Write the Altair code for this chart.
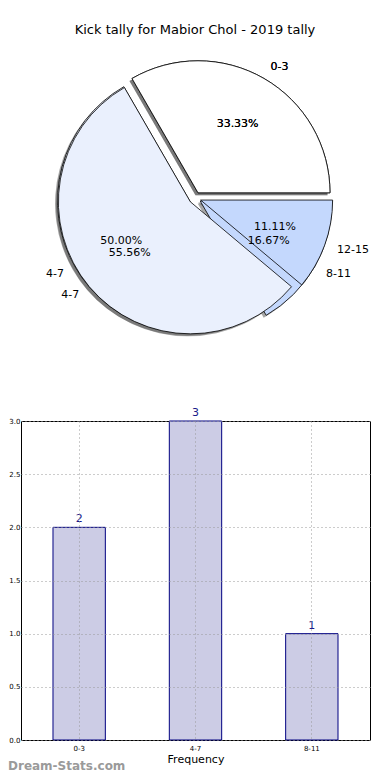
import math
import altair as alt
import pandas as pd

# ---------------- data ----------------
title_text = "Kick tally for Mabior Chol - 2019 tally"
bar_cats = ["0-3", "4-7", "8-11"]
bar_vals = [2, 3, 1]
pie1_cats = ["0-3", "4-7", "8-11"]
pie1_vals = [2, 3, 1]
pie2_cats = ["0-3", "4-7", "12-15"]
pie2_vals = [3, 5, 1]
pie_colors = ["#FFFFFF", "#EAF0FD", "#C4D8FD"]
y_ticks = [0.0, 0.5, 1.0, 1.5, 2.0, 2.5, 3.0]
x_title = "Frequency"
watermark = "Dream-Stats.com"

# ---------------- layout / style ----------------
PAD_L = 13
W, H = 349, 319
CX, CY = 195 - 8 - PAD_L, 198 - 421   # pie centre, relative to the bar plot area
R = 132
EXPLODE = 6
SH_X, SH_Y = -2.5, 2.5
FONT = "DejaVu Sans"


def pie_base(cats, vals):
    df = pd.DataFrame({"cat": cats, "val": vals, "idx": list(range(len(cats)))})
    return (
        alt.Chart(df)
        .transform_joinaggregate(total="sum(val)")
        .transform_window(cum="sum(val)", sort=[alt.SortField("idx")], frame=[None, 0])
        .transform_calculate(
            f1="datum.cum / datum.total",
            f0="(datum.cum - datum.val) / datum.total",
        )
        .transform_calculate(
            t0="PI/2 - 2*PI*datum.f1",
            t1="PI/2 - 2*PI*datum.f0",
            tm="PI/2 - PI*(datum.f0 + datum.f1)",
            pct="format(100*datum.val/datum.total, '.2f') + '%'",
        )
    )


def mids(vals):
    tot = sum(vals)
    out, c = [], 0
    for v in vals:
        out.append(2 * math.pi * (c + v / 2) / tot)
        c += v
    return out


pies = [(pie1_cats, pie1_vals), (pie2_cats, pie2_vals)]
shadow_layers, wedge_layers, text_layers = [], [], []
for cats, vals in pies:
    base = pie_base(cats, vals)
    for i, a in enumerate(mids(vals)):
        dx = EXPLODE * math.cos(a)
        dy = -EXPLODE * math.sin(a)
        w = base.transform_filter(f"datum.idx == {i}")
        shadow_layers.append(
            w.mark_arc(radius=R, fill="#4d4d4d", opacity=0.5).encode(
                theta=alt.Theta("t0:Q", scale=None),
                theta2="t1:Q",
                x=alt.value(CX + dx + SH_X),
                y=alt.value(CY + dy + SH_Y),
            )
        )
        wedge_layers.append(
            w.mark_arc(radius=R, fill=pie_colors[i], stroke="black", strokeWidth=0.8).encode(
                theta=alt.Theta("t0:Q", scale=None),
                theta2="t1:Q",
                x=alt.value(CX + dx),
                y=alt.value(CY + dy),
            )
        )
        text_layers.append(
            w.mark_text(
                align="left" if math.cos(a) > 0 else "right",
                baseline="middle", fontSize=11, font=FONT, color="black",
            ).encode(
                theta=alt.Theta("tm:Q", scale=None),
                radius=alt.value(1.1 * R),
                text="cat:N",
                x=alt.value(CX + dx),
                y=alt.value(CY + dy),
            )
        )
        text_layers.append(
            w.mark_text(align="center", baseline="middle", fontSize=11, font=FONT, color="black").encode(
                theta=alt.Theta("tm:Q", scale=None),
                radius=alt.value(0.6 * R),
                text="pct:N",
                x=alt.value(CX + dx),
                y=alt.value(CY + dy),
            )
        )

# ---------------- bar chart ----------------
bar_df = pd.DataFrame({"cat": bar_cats, "val": bar_vals})
grid_kw = dict(grid=True, gridDash=[1, 3], gridColor="#999999", gridWidth=1, zindex=1,
               ticks=False, domain=False, labelFontSize=7, labelFont=FONT, labelColor="black")
xenc = alt.X(
    "cat:N", sort=bar_cats,
    scale=alt.Scale(paddingInner=0, paddingOuter=0),
    axis=alt.Axis(
        title=x_title, labelAngle=0,
        titleFont=FONT, titleFontSize=11, titleFontWeight="normal", titleColor="black",
        titlePadding=2, labelPadding=4, **grid_kw,
    ),
)
yenc = alt.Y(
    "val:Q",
    scale=alt.Scale(domain=[0, 3], nice=False),
    axis=alt.Axis(title=None, values=y_ticks, format=".1f", labelPadding=1, **grid_kw),
)
bars = alt.Chart(bar_df).mark_bar(
    width=alt.RelativeBandSize(0.45), fill="#CCCCE5", stroke="#000080", strokeWidth=1
).encode(x=xenc, y=yenc)
bar_labels = alt.Chart(bar_df).mark_text(
    dy=-3, fontSize=11, font=FONT, color="#1a1a8a", baseline="bottom"
).encode(x=alt.X("cat:N", sort=bar_cats), y="val:Q", text="val:Q")

title = alt.Chart(pd.DataFrame({"t": [title_text]})).mark_text(
    fontSize=13, font=FONT, color="black", align="center", baseline="middle"
).encode(text="t:N", x=alt.value(195 - 8 - PAD_L), y=alt.value(30 - 421))

wm = alt.Chart(pd.DataFrame({"t": [watermark]})).mark_text(
    fontSize=12, font=FONT, color="#9a9a9a", fontWeight="bold", align="left", baseline="middle"
).encode(text="t:N", x=alt.value(8 - 8 - PAD_L), y=alt.value(766 - 421))

chart = alt.layer(
    bars, bar_labels, *shadow_layers, *wedge_layers, *text_layers, title, wm
).properties(
    width=W, height=H,
    autosize=alt.AutoSizeParams(type="none"),
    padding={"left": PAD_L, "top": 413, "right": 374 - PAD_L - W, "bottom": 36},
    background="white",
).configure_view(stroke="black", strokeWidth=1)

chart.save("out.html", embed_options={"renderer": "svg", "actions": False})
